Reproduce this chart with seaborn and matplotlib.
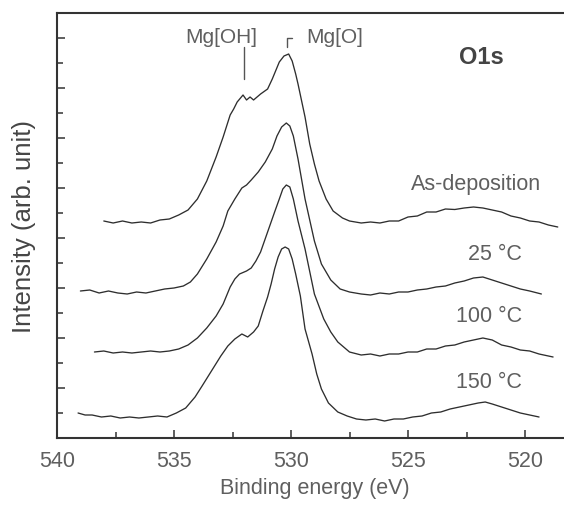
import numpy as np
import pandas as pd
import matplotlib
matplotlib.use("Agg")
import matplotlib.pyplot as plt
from matplotlib.ticker import MultipleLocator
import seaborn as sns

# ---------------- data ----------------
sample_names = ["As-deposition", "25 °C", "100 °C", "150 °C"]

as_dep_energy = [538.0, 537.6, 537.2, 536.8, 536.4, 536.0, 535.6, 535.2, 534.8, 534.4,
                 534.0, 533.6, 533.2, 532.9, 532.6, 532.45, 532.3, 532.05, 531.9, 531.75,
                 531.6, 531.3, 531.0, 530.8, 530.5, 530.3, 530.2, 530.1, 529.95, 529.8,
                 529.7, 529.4, 529.2, 529.0, 528.8, 528.5, 528.2, 527.8, 527.5, 527.0,
                 526.6, 526.2, 525.8, 525.4, 525.0, 524.6, 524.2, 523.8, 523.4, 523.0,
                 522.6, 522.2, 521.8, 521.4, 521.0, 520.6, 520.2, 519.8, 519.4, 519.0, 518.6]
as_dep_int = [8.68, 8.60, 8.68, 8.60, 8.64, 8.60, 8.72, 8.76, 8.92, 9.12,
              9.56, 10.28, 11.24, 12.04, 12.92, 13.16, 13.44, 13.72, 13.52, 13.64,
              13.52, 13.76, 13.96, 14.36, 15.04, 15.28, 15.32, 15.36, 15.08, 14.56,
              14.16, 12.84, 11.76, 10.96, 10.28, 9.56, 9.08, 8.80, 8.68, 8.60,
              8.64, 8.60, 8.68, 8.68, 8.84, 8.88, 9.04, 9.04, 9.16, 9.14,
              9.20, 9.24, 9.20, 9.12, 9.04, 8.88, 8.80, 8.68, 8.64, 8.52, 8.44]

t25_energy = [539.0, 538.6, 538.2, 537.8, 537.4, 537.0, 536.6, 536.2, 535.8, 535.4,
              535.0, 534.6, 534.3, 534.0, 533.6, 533.2, 532.9, 532.7, 532.4, 532.1,
              531.9, 531.7, 531.4, 531.1, 530.8, 530.6, 530.4, 530.2, 530.05, 529.9,
              529.7, 529.4, 529.0, 528.7, 528.3, 527.9, 527.5, 527.0, 526.6, 526.2,
              525.8, 525.4, 525.0, 524.6, 524.2, 523.8, 523.4, 523.0, 522.6, 522.2,
              521.8, 521.4, 521.0, 520.6, 520.2, 519.8, 519.3]
t25_int = [5.88, 5.92, 5.80, 5.88, 5.80, 5.76, 5.84, 5.80, 5.88, 5.96,
           6.00, 6.08, 6.24, 6.56, 7.16, 7.84, 8.48, 9.08, 9.56, 10.00,
           10.12, 10.32, 10.64, 11.04, 11.56, 12.08, 12.44, 12.60, 12.48, 12.08,
           11.16, 9.56, 7.88, 6.96, 6.32, 5.96, 5.84, 5.76, 5.72, 5.80,
           5.76, 5.84, 5.84, 5.92, 5.96, 6.04, 6.08, 6.20, 6.28, 6.40,
           6.44, 6.32, 6.20, 6.08, 5.96, 5.88, 5.76]

t100_energy = [538.4, 538.0, 537.6, 537.2, 536.8, 536.4, 536.0, 535.6, 535.2, 534.8,
               534.4, 534.0, 533.6, 533.2, 532.9, 532.6, 532.4, 532.2, 531.9, 531.7,
               531.5, 531.3, 531.0, 530.7, 530.5, 530.35, 530.2, 530.05, 529.9, 529.7,
               529.4, 529.0, 528.6, 528.3, 528.0, 527.5, 527.0, 526.6, 526.2, 525.8,
               525.4, 525.0, 524.6, 524.2, 523.8, 523.4, 523.0, 522.6, 522.2, 521.8,
               521.4, 521.0, 520.6, 520.2, 519.8, 519.4, 518.8]
t100_int = [3.44, 3.48, 3.40, 3.44, 3.40, 3.44, 3.48, 3.44, 3.48, 3.56,
            3.72, 4.00, 4.40, 4.88, 5.36, 6.04, 6.36, 6.56, 6.68, 6.80,
            7.08, 7.44, 8.24, 9.04, 9.56, 9.96, 10.12, 10.04, 9.56, 8.68,
            7.56, 5.76, 4.76, 4.24, 3.84, 3.44, 3.32, 3.36, 3.28, 3.36,
            3.36, 3.44, 3.44, 3.56, 3.56, 3.68, 3.72, 3.84, 3.92, 4.00,
            3.92, 3.72, 3.64, 3.52, 3.48, 3.36, 3.24]

t150_energy = [539.1, 538.8, 538.5, 538.1, 537.7, 537.3, 536.9, 536.5, 536.1, 535.7,
               535.3, 534.9, 534.5, 534.1, 533.8, 533.4, 533.0, 532.7, 532.4, 532.1,
               531.85, 531.6, 531.4, 531.2, 531.0, 530.85, 530.7, 530.55, 530.4, 530.25,
               530.1, 529.95, 529.8, 529.6, 529.4, 529.1, 528.9, 528.7, 528.4, 528.0,
               527.6, 527.2, 526.8, 526.4, 526.0, 525.6, 525.2, 524.8, 524.4, 524.0,
               523.6, 523.2, 522.8, 522.4, 522.0, 521.7, 521.4, 521.0, 520.6, 520.2,
               519.8, 519.4]
t150_int = [1.00, 0.92, 0.92, 0.84, 0.88, 0.80, 0.84, 0.80, 0.84, 0.88,
            0.84, 1.00, 1.20, 1.64, 2.08, 2.68, 3.28, 3.68, 3.96, 4.16,
            4.04, 4.24, 4.48, 5.08, 5.64, 6.16, 6.76, 7.24, 7.56, 7.64,
            7.56, 7.16, 6.56, 5.68, 4.36, 3.36, 2.56, 1.96, 1.40, 1.04,
            0.88, 0.76, 0.72, 0.76, 0.68, 0.76, 0.76, 0.84, 0.88, 1.00,
            1.04, 1.16, 1.24, 1.32, 1.40, 1.44, 1.36, 1.24, 1.12, 1.00,
            0.92, 0.84]

x_ticks = [540, 535, 530, 525, 520]
x_tick_labels = ["540", "535", "530", "525", "520"]

# ---------------- build long table ----------------
frames = []
for name, e, i in zip(sample_names,
                      [as_dep_energy, t25_energy, t100_energy, t150_energy],
                      [as_dep_int, t25_int, t100_int, t150_int]):
    frames.append(pd.DataFrame({"energy": e, "intensity": i, "sample": name}))
df = pd.concat(frames, ignore_index=True)

# ---------------- style ----------------
sns.set_theme(style="ticks")
plt.rcParams["font.family"] = ["Liberation Sans", "DejaVu Sans"]

text_gray = "#5f5f5f"
axis_gray = "#333333"

fig = plt.figure(figsize=(5.64, 5.06), dpi=100)
ax = fig.add_axes([57 / 564, 67 / 506, 514.8 / 564, 425 / 506])

sns.lineplot(data=df, x="energy", y="intensity", units="sample", estimator=None,
             sort=False, color="#2e2e2e", linewidth=0.95, ax=ax, legend=False)

ax.set_xlim(540, 518)
ax.set_ylim(0, 17)
ax.set_xticks(x_ticks)
ax.set_xticklabels(x_tick_labels)
ax.xaxis.set_minor_locator(MultipleLocator(2.5))
ax.yaxis.set_major_locator(MultipleLocator(2))
ax.yaxis.set_minor_locator(MultipleLocator(1))
ax.tick_params(axis="both", which="both", direction="in", color=axis_gray,
               width=1.1, top=False, right=False)
ax.tick_params(axis="both", which="major", length=6)
ax.tick_params(axis="both", which="minor", length=4)
ax.tick_params(axis="x", which="major", labelsize=15.5, labelcolor=text_gray, pad=9)
ax.tick_params(axis="y", labelleft=False)

for side in ["left", "bottom", "top"]:
    ax.spines[side].set_color(axis_gray)
    ax.spines[side].set_linewidth(1.5)
ax.spines["right"].set_visible(False)

ax.set_xlabel("Binding energy (eV)", fontsize=15.5, color=text_gray, labelpad=4)
ax.set_ylabel("Intensity (arb. unit)", fontsize=18.5, color="#454545", labelpad=12)

# sample labels
ax.text(522.1, 10.16, "As-deposition", fontsize=15.5, color=text_gray, ha="center", va="center")
ax.text(521.3, 7.36, "25 °C", fontsize=15.5, color=text_gray, ha="center", va="center")
ax.text(521.55, 4.88, "100 °C", fontsize=15.5, color=text_gray, ha="center", va="center")
ax.text(521.55, 2.24, "150 °C", fontsize=15.5, color=text_gray, ha="center", va="center")

# O1s label
ax.text(521.88, 15.28, "O1s", fontsize=17, fontweight="bold", color="#444444",
        ha="center", va="center")

# peak markers
ax.plot([532.0, 532.0], [14.36, 15.64], color="#555555", linewidth=1.0)
ax.text(531.46, 16.08, "Mg[OH]", fontsize=15, color=text_gray, ha="right", va="center")
ax.plot([530.17, 530.17, 529.97], [15.63, 15.99, 15.99], color="#555555", linewidth=1.0)
ax.text(529.36, 16.08, "Mg[O]", fontsize=15, color=text_gray, ha="left", va="center")

fig.savefig("out.png", dpi=100)
